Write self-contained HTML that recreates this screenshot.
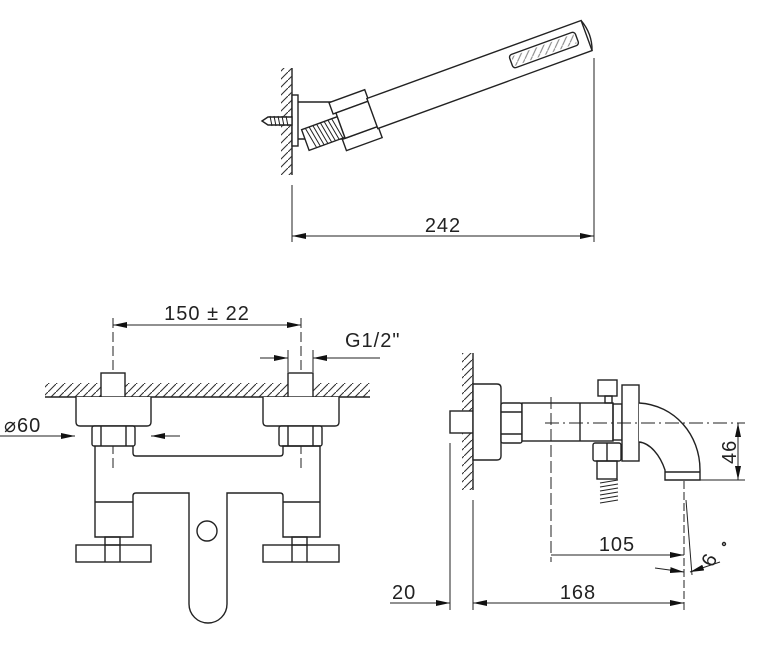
<!DOCTYPE html>
<html><head><meta charset="utf-8"><style>
html,body{margin:0;padding:0;background:#fff;}
svg{display:block;}
text{font-family:"Liberation Sans",sans-serif;font-size:20px;fill:#222;letter-spacing:1px;}
</style></head><body>
<svg width="762" height="671" viewBox="0 0 762 671" xmlns="http://www.w3.org/2000/svg">
<defs>
<marker id="a" viewBox="0 0 14 6" refX="14" refY="3" markerWidth="14" markerHeight="6" orient="auto-start-reverse" markerUnits="userSpaceOnUse"><path d="M0,0 L14,3 L0,6 Z" fill="#111"/></marker>
<pattern id="h" width="8" height="8" patternUnits="userSpaceOnUse"><path d="M0,8 L8,0" stroke="#333" stroke-width="1.1"/></pattern>
</defs>
<g fill="none" stroke="#222" stroke-width="1.4">

<!-- ===== Hand shower ===== -->
<line x1="292" y1="68" x2="292" y2="175"/>
<rect x="281" y="68" width="11" height="107" fill="url(#h)" stroke="none"/>
<rect x="292" y="95" width="6" height="51" fill="#fff"/>
<line x1="298" y1="102" x2="340" y2="102"/>
<line x1="298" y1="139" x2="365" y2="139"/>
<path d="M262,121 L268,117 L292,117 L292,125 L268,125 Z" fill="#fff"/>
<path d="M270,116 l2,10 M274,116 l2,10 M278,116 l2,10 M282,116 l2,10 M286,116 l2,10" stroke-width="1"/>
<g transform="translate(352,122) rotate(-20)">
  <rect x="-50" y="-10" width="38" height="22" fill="#fff"/>
  <path d="M-46,-10 l4,22 M-42,-10 l4,22 M-38,-10 l4,22 M-34,-10 l4,22 M-30,-10 l4,22 M-26,-10 l4,22 M-22,-10 l4,22 M-18,-10 l4,22" stroke-width="1"/>
  <rect x="-15" y="-26" width="38" height="12" fill="#fff"/>
  <rect x="-15" y="13" width="38" height="12" fill="#fff"/>
  <rect x="-12" y="-14" width="36" height="27" fill="#fff"/>
  <rect x="22" y="-17" width="228" height="32" fill="#fff"/>
  <path d="M250,-17 q6,16 0,32"/>
  <rect x="170" y="-9" width="70" height="14" rx="3"/>
  <rect x="172" y="-7" width="66" height="10" fill="url(#h)" stroke="none" opacity="0.6"/>
</g>
<line x1="292" y1="185" x2="292" y2="242" stroke-width="1"/>
<line x1="594" y1="58" x2="594" y2="242" stroke-width="1"/>
<line x1="292" y1="236" x2="594" y2="236" stroke-width="1" marker-start="url(#a)" marker-end="url(#a)"/>

<!-- ===== Front view ===== -->
<line x1="113" y1="318" x2="113" y2="470" stroke-dasharray="10,4" stroke-width="1"/>
<line x1="301" y1="318" x2="301" y2="470" stroke-dasharray="10,4" stroke-width="1"/>
<line x1="113" y1="325" x2="301" y2="325" stroke-width="1" marker-start="url(#a)" marker-end="url(#a)"/>
<line x1="288" y1="350" x2="288" y2="372" stroke-width="1"/>
<line x1="313" y1="350" x2="313" y2="372" stroke-width="1"/>
<line x1="260" y1="358" x2="288" y2="358" stroke-width="1" marker-end="url(#a)"/>
<line x1="380" y1="358" x2="313" y2="358" stroke-width="1" marker-end="url(#a)"/>
<rect x="45" y="383" width="325" height="14" fill="url(#h)" stroke="none"/>
<line x1="45" y1="397" x2="370" y2="397"/>
<rect x="101" y="373" width="24" height="24" fill="#fff"/>
<rect x="288" y="373" width="25" height="24" fill="#fff"/>
<path d="M76,397 V422 q0,4 4,4 H147 q4,0 4,-4 V397" fill="#fff"/>
<path d="M263,397 V422 q0,4 4,4 H335 q4,0 4,-4 V397" fill="#fff"/>
<rect x="92" y="426" width="43" height="20" rx="2" fill="#fff"/>
<line x1="101" y1="426" x2="101" y2="446"/><line x1="126" y1="426" x2="126" y2="446"/>
<rect x="279" y="426" width="43" height="20" rx="2" fill="#fff"/>
<line x1="288" y1="426" x2="288" y2="446"/><line x1="313" y1="426" x2="313" y2="446"/>
<path d="M95,446 V537 H133 V496 q0,-3 3,-3 H189 V604 a19,19 0 0 0 38,0 V493 H280 q3,0 3,3 V537 H320 V446 H283 V453 q0,3 -3,3 H136 q-3,0 -3,-3 V446"/>
<line x1="95" y1="502" x2="133" y2="502"/><line x1="283" y1="502" x2="320" y2="502"/>
<circle cx="207" cy="531" r="10"/>
<rect x="105" y="537" width="15" height="8"/><rect x="292" y="537" width="15" height="8"/>
<rect x="76" y="545" width="75" height="17"/><line x1="105" y1="545" x2="105" y2="562"/><line x1="120" y1="545" x2="120" y2="562"/>
<rect x="263" y="545" width="76" height="17"/><line x1="292" y1="545" x2="292" y2="562"/><line x1="307" y1="545" x2="307" y2="562"/>
<line x1="0" y1="436" x2="75" y2="436" stroke-width="1" marker-end="url(#a)"/>
<line x1="180" y1="436" x2="151" y2="436" stroke-width="1" marker-end="url(#a)"/>

<!-- ===== Side view ===== -->
<rect x="462" y="353" width="11" height="137" fill="url(#h)" stroke="none"/>
<line x1="473" y1="353" x2="473" y2="490"/>
<rect x="450" y="411" width="23" height="22" fill="#fff"/>
<path d="M473,384 H497 q4,0 4,4 V456 q0,4 -4,4 H473 Z" fill="#fff"/>
<rect x="501" y="403" width="21" height="40" rx="2" fill="#fff"/>
<line x1="501" y1="412" x2="522" y2="412"/><line x1="501" y1="434" x2="522" y2="434"/>
<rect x="522" y="403" width="91" height="38" fill="#fff"/>
<line x1="580" y1="403" x2="580" y2="441"/>
<rect x="613" y="404" width="9" height="36"/>
<rect x="598" y="380" width="19" height="16"/><rect x="605" y="396" width="7" height="7"/>
<rect x="622" y="385" width="17" height="76" fill="#fff"/>
<rect x="593" y="443" width="28" height="18" rx="2"/><line x1="607" y1="443" x2="607" y2="461"/>
<rect x="597" y="461" width="20" height="18"/>
<path d="M600,483 l18,-3 M600,487 l18,-3 M600,491 l18,-3 M600,495 l18,-3 M600,499 l18,-3 M600,503 l18,-3" stroke-width="1"/>
<path d="M639,403 C675,405 700,435 700,470 V480 H665 V470 C660,455 650,443 639,442" fill="#fff"/>
<line x1="665" y1="472" x2="700" y2="472"/>
<line x1="545" y1="423" x2="745" y2="423" stroke-dasharray="14,4,2,4" stroke-width="1"/>
<line x1="700" y1="480" x2="745" y2="480" stroke-width="1"/>
<line x1="738" y1="423" x2="738" y2="480" stroke-width="1" marker-start="url(#a)" marker-end="url(#a)"/>
<line x1="551" y1="397" x2="551" y2="562" stroke-dasharray="12,4" stroke-width="1"/>
<line x1="684" y1="481" x2="684" y2="610" stroke-dasharray="8,3" stroke-width="1"/>
<line x1="686" y1="500" x2="692" y2="575" stroke-width="1"/>
<line x1="551" y1="555" x2="684" y2="555" stroke-width="1" marker-end="url(#a)"/>
<path d="M655,568 L684,572" stroke-width="1" marker-end="url(#a)"/>
<path d="M720,562 L690,572" stroke-width="1" marker-end="url(#a)"/>
<circle cx="724" cy="544" r="1.5"/>
<line x1="450" y1="443" x2="450" y2="610" stroke-width="1"/>
<line x1="473" y1="500" x2="473" y2="610" stroke-width="1"/>
<line x1="390" y1="603" x2="450" y2="603" stroke-width="1" marker-end="url(#a)"/>
<line x1="473" y1="603" x2="684" y2="603" stroke-width="1" marker-start="url(#a)" marker-end="url(#a)"/>
</g>
<text x="443" y="232" text-anchor="middle">242</text>
<text x="207" y="320" text-anchor="middle">150 ± 22</text>
<text x="345" y="347">G1/2"</text>
<text x="4" y="432">⌀60</text>
<text x="617" y="551" text-anchor="middle">105</text>
<text x="578" y="599" text-anchor="middle">168</text>
<text x="392" y="599">20</text>
<text transform="translate(736,464) rotate(-90)">46</text>
<text transform="translate(713,568) rotate(-65)">6</text>
</svg>
</body></html>
